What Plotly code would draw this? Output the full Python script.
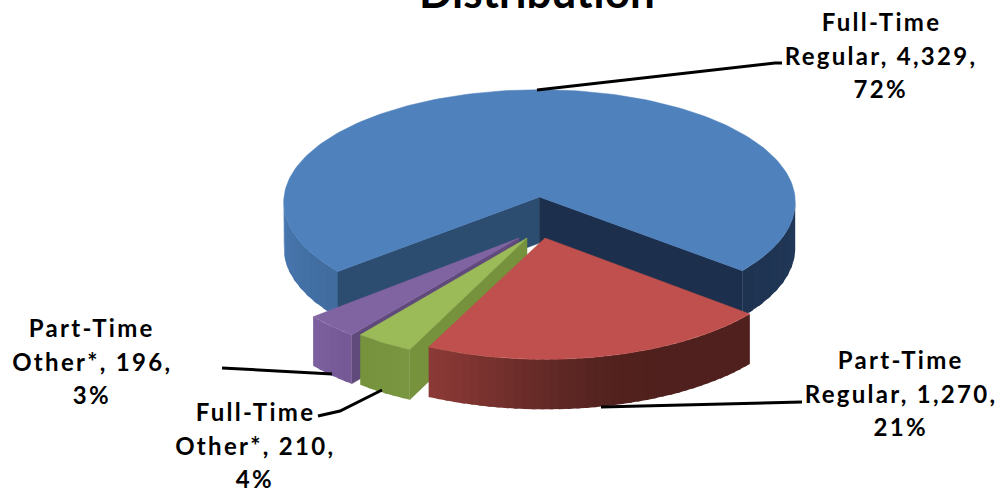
import math
import plotly.graph_objects as go

# ---- data ----
categories = ["Full-Time Regular", "Part-Time Regular", "Full-Time Other*", "Part-Time Other*"]
values = [4329, 1270, 210, 196]
percent_labels = ["72%", "21%", "4%", "3%"]
title_text = "Distribution"
start_angle = 230.0

W, H = 999, 491
top_colors = ["#4f81bd", "#c0504d", "#9bbb59", "#8064a2"]
# apex x, apex y, radius x, radius y, wall depth
geom = [
    (539.5, 197, 255.5, 112.5, 46),
    (545, 238, 258, 116, 50),
    (527, 238, 260, 119, 50),
    (519, 238, 261, 119, 49),
]
PERSP = 0.046
cut_colors = {"blue_l": "#2c4c70", "blue_r": "#1c304d", "green": "#76923c", "purple": "#604a7b"}


def pt(g, deg, down=0.0):
    cx, cy, rx, ry, _ = g
    a = math.radians(deg)
    c = -math.cos(a)
    s = math.sin(a)
    k = 1 + PERSP * c
    return cx + rx * s * k, cy + ry * c * k + down


def arc(g, a0, a1, down=0.0, n=90):
    return [pt(g, a0 + (a1 - a0) * i / n, down) for i in range(n + 1)]


def mix(c0, c1, t):
    a = [int(c0[i:i + 2], 16) for i in (1, 3, 5)]
    b = [int(c1[i:i + 2], 16) for i in (1, 3, 5)]
    return "#%02x%02x%02x" % tuple(round(a[i] + (b[i] - a[i]) * t) for i in range(3))


fig = go.Figure()


def poly(points, color, lw=0.5):
    xs = [p[0] for p in points] + [points[0][0]]
    ys = [p[1] for p in points] + [points[0][1]]
    fig.add_trace(go.Scatter(x=xs, y=ys, mode="lines", fill="toself", fillcolor=color,
                             line=dict(width=lw, color=color), hoverinfo="skip", showlegend=False))


def wall(g, a0, a1, stops, n=16):
    d = g[4]
    for i in range(n):
        # each section overlaps the next so no seams show between them
        u0, u1 = a0 + (a1 - a0) * i / n, a0 + (a1 - a0) * (i + 1.4) / n
        if i == n - 1:
            u1 = a1
        t = (i + 0.5) / n
        seg = t * (len(stops) - 1)
        j = min(int(seg), len(stops) - 2)
        col = mix(stops[j], stops[j + 1], seg - j)
        top = arc(g, u0, u1, 0, 6)
        bot = arc(g, u0, u1, d, 6)
        poly(top + bot[::-1], col, 0)


total = sum(values)
angles = [start_angle]
for v in values:
    angles.append(angles[-1] + v * 360.0 / total)
b0, b1 = angles[0], angles[1]
r0, r1 = angles[1], angles[2]
g0, g1 = angles[2], angles[3]
p0, p1 = angles[3], angles[4]

# blue slice
g = geom[0]
d = g[4]
apex = (g[0], g[1])
wall(g, b0, 270, ["#3f6b9e", "#4a7ab3"], 10)
wall(g, 90, b1 - 360, ["#23395a", "#1d3350"], 10)
l = pt(g, b0)
r = pt(g, b1)
poly([apex, l, (l[0], l[1] + d), (apex[0], apex[1] + d)], cut_colors["blue_l"])
poly([apex, r, (r[0], r[1] + d), (apex[0], apex[1] + d)], cut_colors["blue_r"])
poly([apex] + arc(g, b0, b1, 0, 180), top_colors[0])

# purple slice
g = geom[3]
d = g[4]
apex = (g[0], g[1])
e = pt(g, p0)
poly([apex, e, (e[0], e[1] + d), (apex[0], apex[1] + d)], cut_colors["purple"])
wall(g, p1, p0, ["#7c609f", "#745895"], 6)
poly([apex] + arc(g, p0, p1, 0, 20), top_colors[3])

# green slice
g = geom[2]
d = g[4]
apex = (g[0], g[1])
e = pt(g, g0)
poly([apex, e, (e[0], e[1] + d), (apex[0], apex[1] + d)], cut_colors["green"])
wall(g, g1, g0, ["#76923c", "#7a9640"], 6)
poly([apex] + arc(g, g0, g1, 0, 20), top_colors[2])

# red slice
g = geom[1]
wall(g, r1, r0, ["#8c3a37", "#7a322f", "#642a27", "#54221f", "#4f201d", "#4f201d", "#4f201d"], 40)
poly([(g[0], g[1])] + arc(g, r0, r1, 0, 90), top_colors[1])

# leader lines
leaders = [
    [(537, 90), (775, 63), (782, 63)],
    [(601, 407), (802, 402)],
    [(222, 368), (332, 374)],
    [(382, 390), (340, 411), (318, 416)],
]
shapes = []
for pts in leaders:
    path = "M" + " L".join(f"{x},{y}" for x, y in pts)
    shapes.append(dict(type="path", path=path, xref="x", yref="y", line=dict(color="#000000", width=3)))

# labels, one annotation per line for the chart's wider line spacing
label_lines = [
    ["Full-Time", "Regular, 4,329,", "72%"],
    ["Part-Time", "Regular, 1,270,", "21%"],
    ["Full-Time", "Other*, 210,", "4%"],
    ["Part-Time", "Other*, 196,", "3%"],
]
label_pos = [(881, 55), (901, 393), (255, 445), (92, 361)]
LINE_GAP = 33.3
annotations = [dict(x=537, y=19, xref="x", yref="y", text=f"<b>{title_text}</b>", showarrow=False,
                    font=dict(family="Lato", size=44, color="#000000"),
                    xanchor="center", yanchor="bottom")]
for lines, (x, y) in zip(label_lines, label_pos):
    for i, line in enumerate(lines):
        annotations.append(dict(x=x, y=y + (i - 1) * LINE_GAP, xref="x", yref="y", text=f"<b>{line}</b>",
                                showarrow=False, font=dict(family="Lato", size=24, color="#000000"),
                                xanchor="center", yanchor="middle"))

fig.update_layout(
    width=W, height=H, margin=dict(l=0, r=0, t=0, b=0),
    paper_bgcolor="#ffffff", plot_bgcolor="#ffffff", showlegend=False,
    xaxis=dict(range=[0, W], visible=False, fixedrange=True),
    yaxis=dict(range=[H, 0], visible=False, fixedrange=True),
    shapes=shapes, annotations=annotations,
)
post = """
document.body.style.margin='0';
var st=document.createElement('style');
st.textContent=".annotation-text{letter-spacing:2.3px}.annotation[data-index='0'] .annotation-text{letter-spacing:0}";
document.head.appendChild(st);
"""
fig.write_html("out.html", post_script=post, config={"displayModeBar": False})
